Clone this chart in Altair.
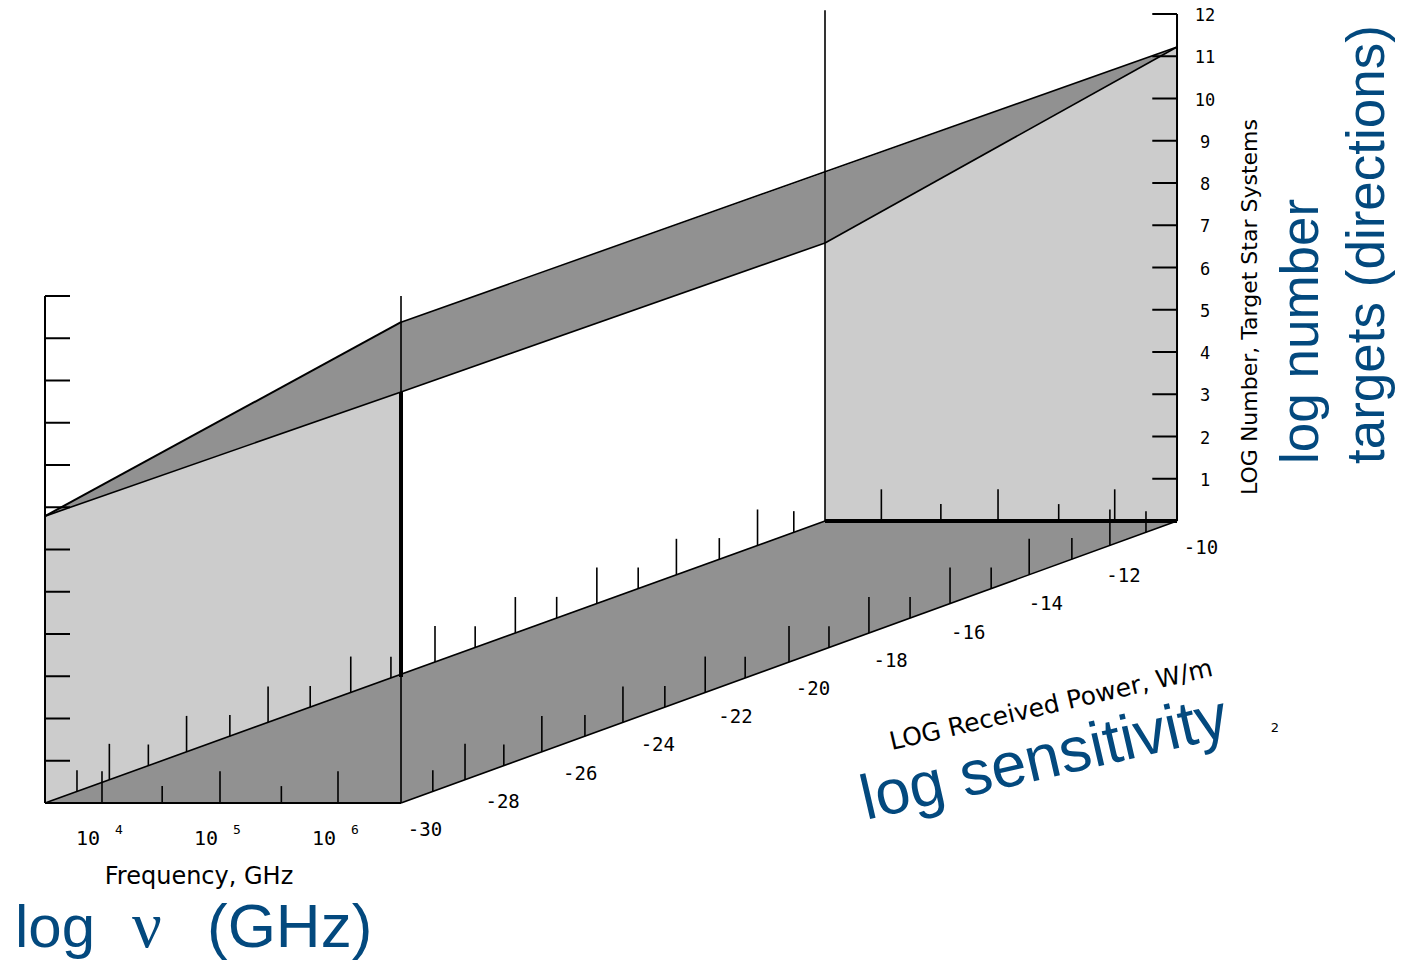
import altair as alt
import pandas as pd

# Axis extents and readings, in axis units (log10 GHz, log10 W/m2, log10 number)
F_MIN, F_MAX = 3.517, 6.534
S_MIN, S_MAX = -30.0, -10.0
N_TOP = 12
N_LEVELS = list(range(0, 13))

# Boundary of the search volume
WALL_FRONT_N = [6.79, 9.73]      # at s=-30, for F_MIN, F_MAX
WALL_BACK_N = [6.58, 11.22]      # at s=-10, for F_MIN, F_MAX
ROOF_UP_N = [6.79, 11.38, 8.24, 11.22]
ROOF_LOW_N = [6.79, 9.73, 6.58, 11.22]

F_TICKS_LONG = [4.0, 5.0, 6.0]
F_TICKS_SHORT = [4.51, 5.52]
S_TICKS_LONG = [-28.35, -26.37, -24.28, -22.16, -20.0, -17.94, -15.85, -13.81, -11.73]
S_TICKS_SHORT = [-29.18, -27.35, -25.26, -23.2, -21.13, -18.97, -16.88, -14.79, -12.71, -10.8]
F_TICK_LEN = [0.75, 0.4]
S_TICK_LEN = [0.85, 0.5]
N_TICK_LEN = 0.212

S_LABELS = [-30, -28, -26, -24, -22, -20, -18, -16, -14, -12, -10]
N_LABELS = list(range(1, 13))
F_LABELS = [4, 5, 6]

LIGHT = "#cccccc"
DARK = "#919191"
INK = "#000000"
BLUE = "#03497e"
MONO = "DejaVu Sans Mono"
SANS = "DejaVu Sans"
HELV = "Liberation Sans"


def px(f, s):
    depth = (s + 30) / 20
    return 45 + (s + 30) * 39 + (f - F_MIN) * 118 * (1 - 0.0112 * depth)


def py(f, s, n):
    return 803 - (s + 30) * 14.1 - n * 42.25


X = alt.Scale(domain=[8, 1397], nice=False, zero=False)
Y = alt.Scale(domain=[961, 8], nice=False, zero=False)
enc_x = lambda field: alt.X(field, type="quantitative", scale=X, axis=None)
enc_y = lambda field: alt.Y(field, type="quantitative", scale=Y, axis=None)


def band(corners, up, low, color):
    df = pd.DataFrame(
        {
            "x": [px(f, s) for f, s in corners],
            "y": [py(f, s, n) for (f, s), n in zip(corners, up)],
            "y2": [py(f, s, n) for (f, s), n in zip(corners, low)],
        }
    )
    return alt.Chart(df).mark_area(color=color, opacity=1).encode(
        x=enc_x("x"), y=enc_y("y"), y2=alt.Y2("y2")
    )


wall_front = band([(F_MIN, S_MIN), (F_MAX, S_MIN)], WALL_FRONT_N, [0, 0], LIGHT)
wall_back = band([(F_MIN, S_MAX), (F_MAX, S_MAX)], WALL_BACK_N, [0, 0], LIGHT)
roof = band(
    [(F_MIN, S_MIN), (F_MAX, S_MIN), (F_MIN, S_MAX), (F_MAX, S_MAX)],
    ROOF_UP_N, ROOF_LOW_N, DARK,
)
floor_df = pd.DataFrame(
    {
        "y": [py(F_MIN, S_MIN, 0), py(F_MIN, S_MAX, 0)],
        "x": [px(F_MIN, S_MIN), px(F_MIN, S_MAX)],
        "x2": [px(F_MAX, S_MIN), px(F_MAX, S_MAX)],
    }
)
floor = alt.Chart(floor_df).mark_area(color=DARK, opacity=1, orient="horizontal").encode(
    y=enc_y("y"), x=enc_x("x"), x2=alt.X2("x2")
)

segs = []


def seg(a, b, w=1.6):
    segs.append(
        {
            "x": px(a[0], a[1]), "y": py(*a),
            "x2": px(b[0], b[1]), "y2": py(*b), "w": w,
        }
    )


# Edges of the volume
seg((F_MIN, S_MIN, 0), (F_MAX, S_MIN, 0), 2)
seg((F_MIN, S_MIN, 0), (F_MIN, S_MAX, 0))
seg((F_MAX, S_MIN, 0), (F_MAX, S_MAX, 0))
seg((F_MIN, S_MAX, 0), (F_MAX, S_MAX, 0), 4)
seg((F_MIN, S_MIN, 0), (F_MIN, S_MIN, N_TOP), 2)
seg((F_MAX, S_MAX, 0), (F_MAX, S_MAX, N_TOP), 2)
seg((F_MAX, S_MIN, 0), (F_MAX, S_MIN, N_TOP))
seg((F_MAX, S_MIN, 2.98), (F_MAX, S_MIN, WALL_FRONT_N[1]), 4)
seg((F_MIN, S_MAX, 0), (F_MIN, S_MAX, 12.09))
# Roof outline
seg((F_MIN, S_MIN, ROOF_UP_N[0]), (F_MAX, S_MIN, ROOF_UP_N[1]), 2)
seg((F_MAX, S_MIN, ROOF_UP_N[1]), (F_MAX, S_MAX, ROOF_UP_N[3]))
seg((F_MIN, S_MIN, ROOF_LOW_N[0]), (F_MAX, S_MIN, ROOF_LOW_N[1]))
seg((F_MAX, S_MIN, ROOF_LOW_N[1]), (F_MIN, S_MAX, ROOF_LOW_N[2]))
seg((F_MIN, S_MAX, ROOF_LOW_N[2]), (F_MAX, S_MAX, ROOF_LOW_N[3]))
# Number ticks
for n in N_LEVELS:
    seg((F_MIN, S_MIN, n), (F_MIN + N_TICK_LEN, S_MIN, n), 2)
    seg((F_MAX - N_TICK_LEN, S_MAX, n), (F_MAX, S_MAX, n), 2)
# Frequency ticks on the floor, front and back
for s in (S_MIN, S_MAX):
    for values, h in zip((F_TICKS_LONG, F_TICKS_SHORT), F_TICK_LEN):
        for f in values:
            seg((f, s, 0), (f, s, h))
# Sensitivity ticks on the floor, both edges
for f in (F_MIN, F_MAX):
    for values, h in zip((S_TICKS_LONG, S_TICKS_SHORT), S_TICK_LEN):
        for s in values:
            seg((f, s, 0), (f, s, h))

lines = alt.Chart(pd.DataFrame(segs)).mark_rule(color=INK).encode(
    x=enc_x("x"), y=enc_y("y"), x2=alt.X2("x2"), y2=alt.Y2("y2"),
    strokeWidth=alt.StrokeWidth("w:Q", scale=None),
)


def labels(rows, **mark):
    return alt.Chart(pd.DataFrame(rows)).mark_text(**mark).encode(
        x=enc_x("x"), y=enc_y("y"), text="t:N"
    )


s_labels = labels(
    [{"t": str(v), "x": px(F_MAX, v), "y": py(F_MAX, v, 0)} for v in S_LABELS],
    font=MONO, fontSize=19, color=INK, dx=24, dy=27, baseline="middle", align="center",
)
n_labels = labels(
    [{"t": str(v), "x": px(F_MAX, S_MAX), "y": py(F_MAX, S_MAX, v)} for v in N_LABELS],
    font=MONO, fontSize=17, color=INK, dx=28, dy=2, baseline="middle", align="center",
)
f_labels = labels(
    [{"t": "10", "x": px(v, S_MIN), "y": py(v, S_MIN, 0)} for v in F_LABELS],
    font=MONO, fontSize=20, color=INK, dx=-14, dy=36, baseline="middle", align="center",
)
f_exps = labels(
    [{"t": str(v), "x": px(v, S_MIN), "y": py(v, S_MIN, 0)} for v in F_LABELS],
    font=MONO, fontSize=13, color=INK, dx=17, dy=27, baseline="middle", align="center",
)


def note(text, x, y, font=HELV, size=60, color=BLUE, angle=0, align="left", baseline="alphabetic"):
    mark = dict(font=font, fontSize=size, color=color, align=align, baseline=baseline)
    if angle:
        mark["angle"] = angle
    return alt.Chart(pd.DataFrame({"t": [text]})).mark_text(**mark).encode(
        x=alt.value(x - 8), y=alt.value(y - 8), text="t:N"
    )


notes = [
    note("Frequency, GHz", 199, 877, SANS, 24, INK, align="center", baseline="middle"),
    note("LOG Received Power, W/m", 1051, 705, SANS, 25, INK, angle=347, align="center", baseline="middle"),
    note("2", 1275, 728, SANS, 13, INK, align="center", baseline="middle"),
    note("LOG Number, Target Star Systems", 1250, 307, SANS, 22, INK, angle=270, align="center", baseline="middle"),
    note("log", 15, 947),
    note("ν", 132, 947, font="Liberation Serif", size=66),
    note("(GHz)", 207, 947, size=62),
    note("log sensitivity", 866, 820, size=63, angle=347),
    note("log number", 1318, 464, size=53, angle=270),
    note("targets (directions)", 1384, 464, size=53, angle=270),
]

chart = alt.layer(
    wall_front, wall_back, roof, floor, lines, s_labels, n_labels, f_labels, f_exps, *notes
).properties(
    width=1389, height=953, padding=0, background="white",
    autosize=alt.AutoSizeParams(type="none"),
).configure_view(stroke=None)

chart.save("out.html", embed_options={"renderer": "svg", "actions": False})
